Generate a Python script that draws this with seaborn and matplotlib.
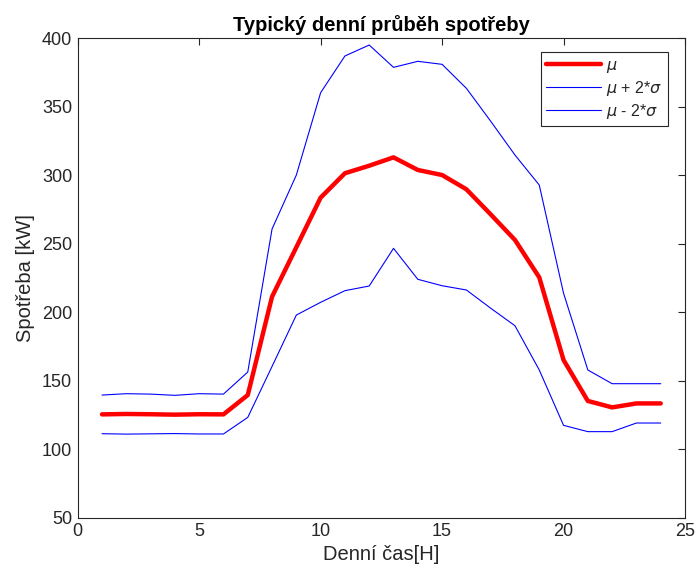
import numpy as np
import pandas as pd
import matplotlib
matplotlib.use("Agg")
import matplotlib.pyplot as plt
import seaborn as sns

hours = list(range(1, 25))
mu = [125.5, 125.8, 125.6, 125.3, 125.6, 125.5, 139.6, 211.4, 247.5, 283.7, 301.5, 307.0,
      313.1, 303.9, 300.2, 289.8, 271.5, 252.8, 225.5, 165.2, 135.3, 130.6, 133.5, 133.5]
mu_plus = [139.6, 140.6, 140.3, 139.4, 140.6, 140.3, 156.4, 260.8, 300.2, 360.3, 387.1, 395.1,
           378.8, 383.2, 381.0, 363.5, 339.5, 314.8, 292.9, 213.9, 157.9, 147.9, 147.9, 147.9]
mu_minus = [111.4, 111.1, 111.3, 111.5, 111.2, 111.2, 123.3, 160.5, 198.0, 207.3, 215.8, 219.2,
            246.7, 224.1, 219.4, 216.3, 203.0, 190.2, 157.9, 117.5, 112.9, 112.9, 119.2, 119.2]

labels = [r"$\mu$", r"$\mu$ + 2*$\sigma$", r"$\mu$ - 2*$\sigma$"]

sns.set_style("white")
plt.rcParams["font.family"] = ["Liberation Sans", "DejaVu Sans"]
plt.rcParams["mathtext.fontset"] = "dejavusans"

df = pd.DataFrame({"hour": hours, "mu": mu, "plus": mu_plus, "minus": mu_minus})

fig = plt.figure(figsize=(6.97, 5.76), dpi=100)
ax = fig.add_axes([0.1115, 0.101, 0.8713, 0.8325])

sns.lineplot(data=df, x="hour", y="mu", ax=ax, color="#ff0000", linewidth=3.2, label=labels[0])
sns.lineplot(data=df, x="hour", y="plus", ax=ax, color="#0000ff", linewidth=0.8, label=labels[1])
sns.lineplot(data=df, x="hour", y="minus", ax=ax, color="#0000ff", linewidth=0.8, label=labels[2])

ax.set_xlim(0, 25)
ax.set_ylim(50, 400)
ax.set_xticks([0, 5, 10, 15, 20, 25])
ax.set_yticks(np.arange(50, 401, 50))
ax.tick_params(direction="in", top=True, right=True, length=5, width=0.8,
               labelsize=13, colors="#262626", pad=4)
for s in ax.spines.values():
    s.set_color("#262626")
    s.set_linewidth(0.8)

ax.set_title("Typický denní průběh spotřeby", fontsize=14.5, fontweight="bold", color="black", pad=5)
ax.set_xlabel("Denní čas[H]", fontsize=14.5, color="#262626", labelpad=3)
ax.set_ylabel("Spotřeba [kW]", fontsize=14.5, color="#262626", labelpad=5)

leg = ax.legend(loc="upper right", fontsize=11.5, frameon=True, fancybox=False,
                edgecolor="#262626", framealpha=1, borderpad=0.35, handlelength=3.4,
                labelspacing=0.25, handletextpad=0.35,
                bbox_to_anchor=(0.972, 0.971), borderaxespad=0.0)
leg.get_frame().set_linewidth(0.8)

fig.savefig("out.png", dpi=100)
